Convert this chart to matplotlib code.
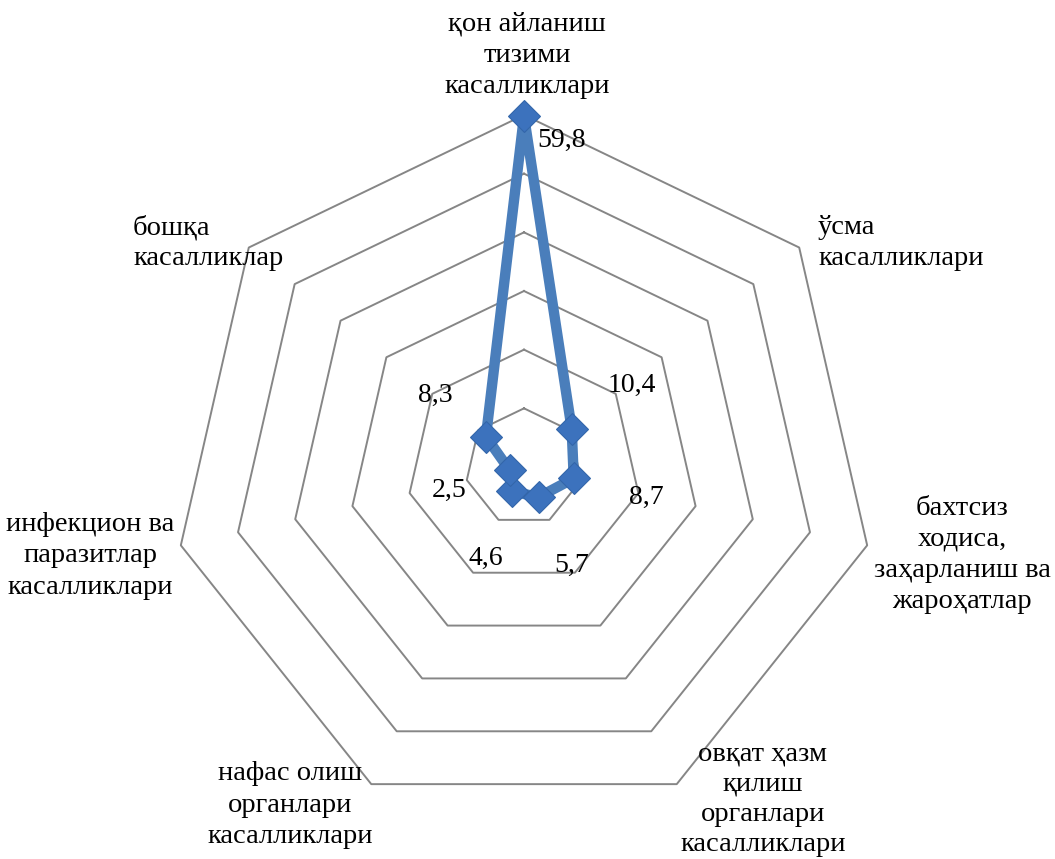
import numpy as np
import matplotlib
matplotlib.use("Agg")
import matplotlib.pyplot as plt

# categories and values
categories = [
    "қон айланиш\nтизими\nкасалликлари",
    "ўсма\nкасалликлари",
    "бахтсиз\nходиса,\nзаҳарланиш ва\nжароҳатлар",
    "овқат ҳазм\nқилиш\nорганлари\nкасалликлари",
    "нафас олиш\nорганлари\nкасалликлари",
    "инфекцион ва\nпаразитлар\nкасалликлари",
    "бошқа\nкасалликлар",
]
values = [59.8, 10.4, 8.7, 5.7, 4.6, 2.5, 8.3]
value_labels = ["59,8", "10,4", "8,7", "5,7", "4,6", "2,5", "8,3"]
ring_levels = [10, 20, 30, 40, 50, 60]

W, H = 1055, 859
FONT = ["Liberation Serif", "DejaVu Serif"]
LINE = "#4A7EBB"
MARK = "#3C72BD"
GRID = "#868686"

fig = plt.figure(figsize=(W / 100, H / 100), dpi=100)
cx, cy, R = 524, 467, 352
ax = fig.add_axes([(cx - R) / W, (H - cy - R) / H, 2 * R / W, 2 * R / H],
                  projection="polar")
ax.set_theta_zero_location("N")
ax.set_theta_direction(-1)
ax.set_ylim(0, 60)
ax.set_axis_off()

n = len(categories)
theta = np.arange(n) * 2 * np.pi / n
theta_closed = np.append(theta, theta[0])

# heptagon grid
for lvl in ring_levels:
    ax.plot(theta_closed, [lvl] * (n + 1), color=GRID, lw=1.4, zorder=1,
            clip_on=False)

vals_closed = values + [values[0]]
ax.plot(theta_closed, vals_closed, color=LINE, lw=7.5, solid_joinstyle="round",
        zorder=3, clip_on=False)
ax.plot(theta, values, linestyle="none", marker="D", markersize=16,
        color=MARK, markeredgecolor="#3366AA", markeredgewidth=0.8, zorder=4,
        clip_on=False)

# data labels (offsets in pixels)
label_offsets = [(38, -24), (60, 44), (73, -19), (33, -68), (-26, -67),
                 (-61, -20), (-51, 41)]
for t, v, lab, off in zip(theta, values, value_labels, label_offsets):
    ax.annotate(lab, (t, v), xytext=off, textcoords="offset pixels",
                ha="center", va="center", fontsize=20, family=FONT,
                zorder=5)

# category labels (pixel positions, alignment, line spacing)
cat_pos = [
    (527, 55, "center", 1.32),
    (818, 243, "left", 1.32),
    (962, 555, "center", 1.32),
    (763, 799, "center", 1.27),
    (290, 805, "center", 1.32),
    (90, 556, "center", 1.32),
    (133, 243, "left", 1.32),
]
for text, (x, y, ha, ls) in zip(categories, cat_pos):
    fig.text(x / W, 1 - y / H, text, ha=ha, va="center", multialignment=ha,
             fontsize=20.5, family=FONT, linespacing=ls)

fig.savefig("out.png", dpi=100)
